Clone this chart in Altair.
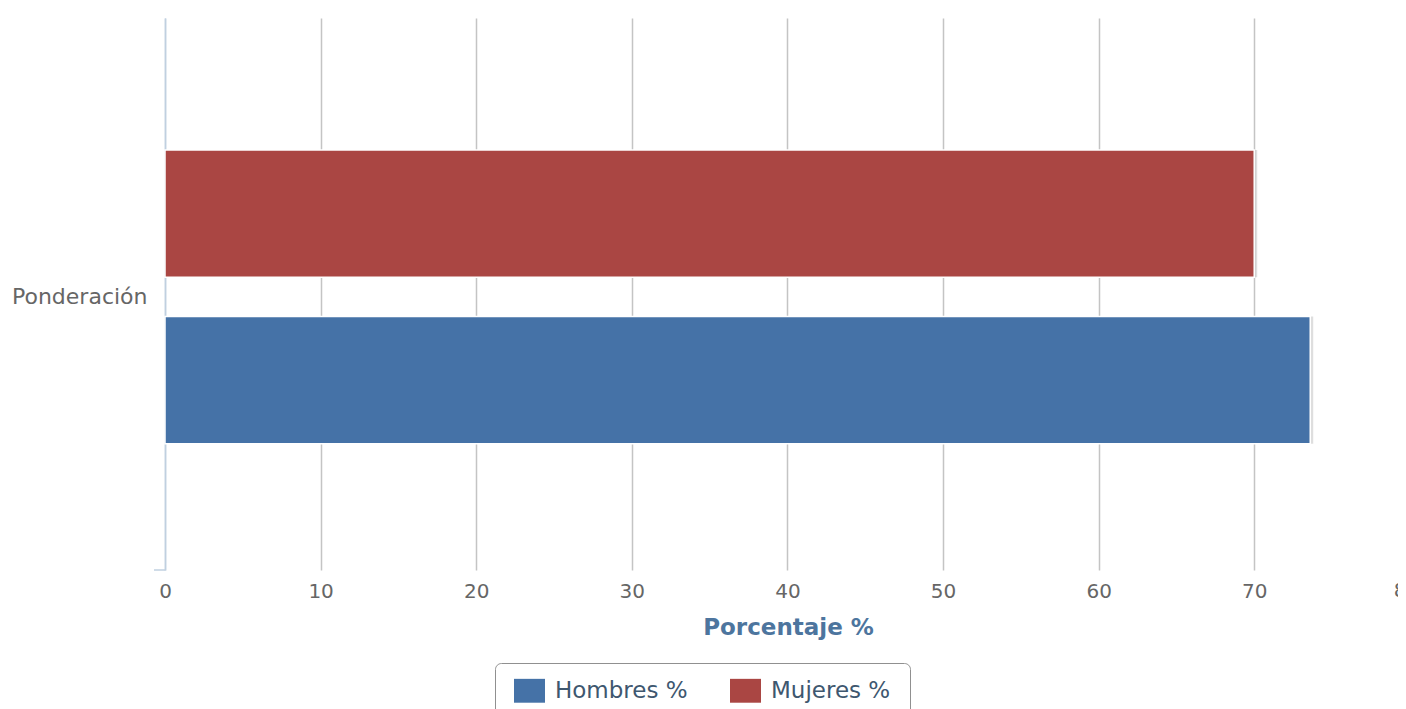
import altair as alt
import pandas as pd

categories = ["Ponderación"]
hombres = [73.6]
mujeres = [70.0]
series = ["Hombres %", "Mujeres %"]
bar_order = ["Mujeres %", "Hombres %"]
colors = ["#4572A7", "#AA4643"]
x_ticks = [0, 10, 20, 30, 40, 50, 60, 70, 80]
x_max_visible = 79.24  # the reference crops the axis just before 80

rows = []
for i, c in enumerate(categories):
    rows.append({"categoria": c, "serie": "Hombres %", "valor": hombres[i]})
    rows.append({"categoria": c, "serie": "Mujeres %", "valor": mujeres[i]})
df = pd.DataFrame(rows)
cut_ticks = pd.DataFrame({"valor": [t for t in x_ticks if t > x_max_visible]})

FONT = "DejaVu Sans"

y_enc = alt.Y(
    "categoria:N",
    scale=alt.Scale(paddingInner=0, paddingOuter=0.44, align=0.511),
    axis=alt.Axis(
        title=None, ticks=False, domainColor="#C0D0E0", domainWidth=1.5,
        labelFontSize=22, labelColor="#666666", labelPadding=18, labelFont=FONT,
    ),
)
yoff_enc = alt.YOffset(
    "serie:N", sort=bar_order,
    scale=alt.Scale(domain=bar_order, paddingInner=0.235, paddingOuter=0),
)
x_scale = alt.Scale(domain=[0, x_max_visible], nice=False, zero=True)
x_enc = alt.X(
    "valor:Q",
    scale=x_scale,
    axis=alt.Axis(
        values=x_ticks, title="Porcentaje %", ticks=False, domain=False,
        grid=True, gridOpacity=1, labelFlush=False,
        gridColor=alt.condition(alt.datum.value == 0, alt.value("#C0D0E0"), alt.value("#C4C4C4")),
        gridWidth=1.5,
        labelFontSize=20, labelColor="#666666", labelPadding=11, labelFont=FONT,
        titleFont=FONT, titleFontSize=23, titleFontWeight="bold", titleColor="#4D759E",
        titlePadding=15, titleX=623,
    ),
)

shadow = alt.Chart(df).mark_bar(color="#000000", opacity=0.13, xOffset=3, yOffset=3).encode(
    x=x_enc, y=y_enc, yOffset=yoff_enc
)

bars = alt.Chart(df).mark_bar(stroke="white", strokeWidth=1.5).encode(
    x=x_enc, y=y_enc, yOffset=yoff_enc,
    color=alt.Color(
        "serie:N",
        scale=alt.Scale(domain=series, range=colors),
        legend=alt.Legend(
            title=None, orient="none", legendX=330, legendY=645, direction="horizontal",
            columns=2, gridAlign="all",
            strokeColor="#909090", cornerRadius=6, padding=19, fillColor="white",
            symbolType="M-1,-1.22H1V0.32H-1Z", symbolSize=961, symbolStrokeWidth=0,
            symbolOpacity=1, labelFontSize=23, labelFont=FONT, labelColor="#3E576F",
            labelBaseline="alphabetic",
            labelOffset=10, columnPadding=42,
        ),
    ),
)

# tick label at the cropped right edge (only its first digit shows, as in the reference)
cut_label = alt.Chart(cut_ticks).mark_text(
    font=FONT, fontSize=20, color="#666666", baseline="top", align="left", dx=-16
).encode(x=alt.X("valor:Q", scale=x_scale), y=alt.value(552 + 11), text=alt.Text("valor:Q"))

corner = alt.Chart(pd.DataFrame({"a": [0]})).mark_rule(color="#C0D0E0", strokeWidth=1.5).encode(
    x=alt.value(-11), x2=alt.value(0), y=alt.value(552)
)

chart = alt.layer(shadow, bars, cut_label, corner).properties(
    width=1233, height=552,
    autosize=alt.AutoSizeParams(type="none"),
    padding={"left": 157, "top": 10, "right": 0, "bottom": 139},
    background="white",
).configure_view(stroke=None)

chart.save("out.html", embed_options={"renderer": "svg", "actions": False})
